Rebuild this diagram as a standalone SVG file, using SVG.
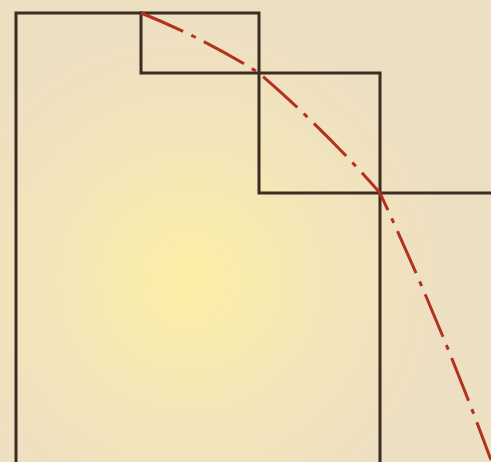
<svg xmlns="http://www.w3.org/2000/svg" width="491" height="462" viewBox="0 0 491 462">
  <defs>
    <radialGradient id="bg" cx="190" cy="280" r="260" gradientUnits="userSpaceOnUse">
      <stop offset="0" stop-color="#fcf0a6"/>
      <stop offset="0.5" stop-color="#f4e6b8"/>
      <stop offset="1" stop-color="#eddfc2"/>
    </radialGradient>
    <style>
      .edge { fill: none; stroke: #3b2d22; stroke-width: 3; stroke-linecap: square; }
      .curve { fill: none; stroke: #b2321e; stroke-width: 3; stroke-dasharray: 46 9 5 9; }
    </style>
  </defs>
  <rect width="491" height="462" fill="url(#bg)"/>
  <g id="lines">
    <path class="edge" d="M16 462 V13 H259 V193 H491"/>
    <path class="edge" d="M141 13 V73 H380 V462"/>
  </g>
  <g id="spiral">
    <path class="curve" d="M141 13 C182.1 29.4 221.5 49.4 259 73 C302.1 110.2 342.5 150.2 380 193 C420.7 280.5 457.7 369.5 491 460"/>
  </g>
</svg>
